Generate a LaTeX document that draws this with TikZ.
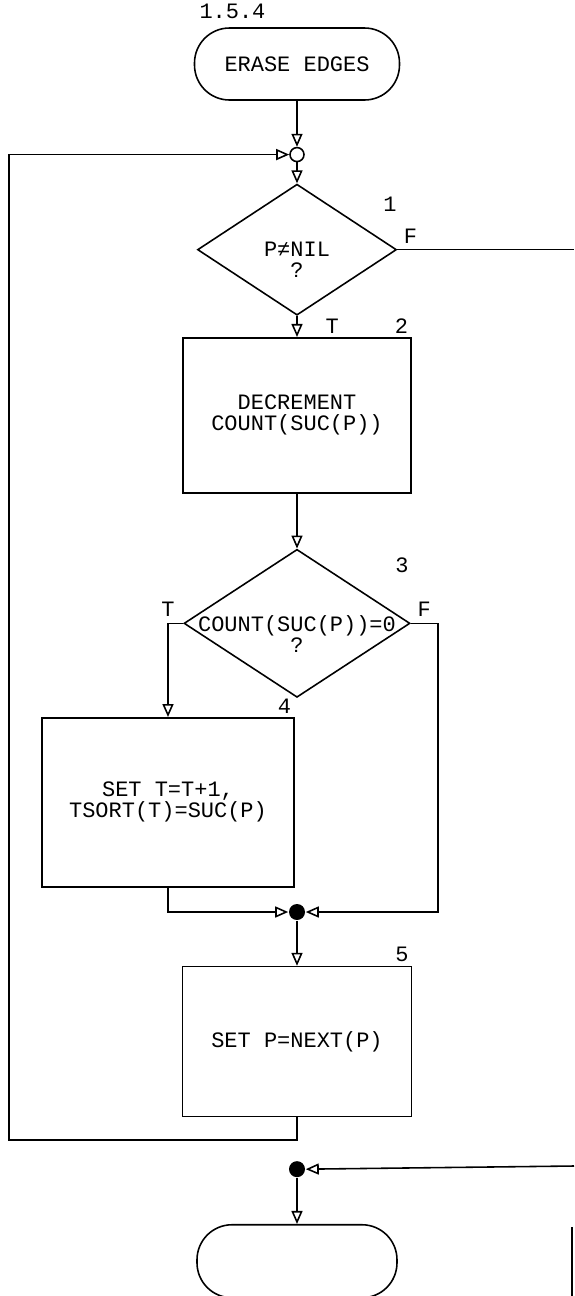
\documentclass[tikz,border=0pt]{standalone}
\usepackage{fontspec}
\setmonofont{Liberation Mono}
\usepackage{tikz}
\usetikzlibrary{arrows.meta,calc,positioning,shapes.geometric}

\begin{document}
\begin{tikzpicture}[
			x=1mm, y=1mm,
			>={Triangle[open,length=2.6mm,width=2.2mm]},
			line width=0.9pt,
			every node/.style={font=\ttfamily\fontsize{12.5}{12}\selectfont},
			term/.style={draw, rectangle, rounded corners=7mm, minimum width=41mm, minimum height=14.4mm},
			block/.style={draw, rectangle, align=center},
			decision/.style={draw, diamond, inner sep=0pt},
			jopen/.style={draw, circle, inner sep=0pt, minimum size=2.8mm},
			jdot/.style={fill, circle, inner sep=0pt, minimum size=3.2mm},
			txt/.style={align=center},
			num/.style={inner sep=0.6mm},
			flow/.style={->}
			]
			\useasboundingbox (0,0) rectangle (114.8,-259.2);
			
			\node[term] (start) at (59.4,-12.8) {ERASE EDGES};
			\node[anchor=south west, inner sep=0pt] (secno) at ($(start.north west)+(1.0,1.6)$) {1.5.4};
			
			\node[jopen, below=9.2mm of start] (j1) {};
			\node[decision, minimum width=39.8mm, minimum height=26.2mm, below=4.2mm of j1] (test1) {};
			\node[txt] at ($(test1)+(0,-2.1)$) {P≠NIL\\?};
			\node[block, minimum width=45.6mm, minimum height=31mm, below=4.2mm of test1] (dec) {DECREMENT\\COUNT(SUC(P))};
			\node[decision, minimum width=45.2mm, minimum height=29.6mm, below=11mm of dec] (test3) {};
			\node[txt] at ($(test3)+(0,-2.1)$) {COUNT(SUC(P))=0\\?};
			\node[block, minimum width=50.4mm, minimum height=33.8mm, anchor=north] (inc) at (33.6,-143.4) {SET T=T+1,\\TSORT(T)=SUC(P)};
			\node[jdot] (j2) at (59.4,-182.4) {};
			\node[block, minimum width=45.8mm, minimum height=30mm, below=9mm of j2] (next) {SET P=NEXT(P)};
			\node[jdot, below=8.6mm of next] (j3) {};
			\node[term, minimum width=40mm, minimum height=14.6mm, below=9.2mm of j3] (stop) {};
			
			% step numbers
			\node[num] at ($(test1.north)+(18.6,-4.2)$) {1};
			\node[num, above left=0mm of dec.north east] {2};
			\node[num] at ($(test3.north)+(21,-3.4)$) {3};
			\node[num, above left=0mm of inc.north east] {4};
			\node[num, above left=0mm of next.north east] {5};
			
			\coordinate (loopl) at (1.8,-228);
			\coordinate (rin) at (114.8,-233.2);
			\coordinate (fturn) at ($(test3.east)+(5.4,0)$);
			
			\draw[flow] (start) -- (j1);
			\draw[flow] (j1) -- (test1);
			\draw[flow] (test1) -- node[right, xshift=4.4mm] {T} (dec);
			\draw (test1.east) -- node[pos=0, above right] {F} (test1.east -| rin);
			\draw[flow] (dec) -- (test3);
			\draw[flow] (test3.west) -| node[pos=0.5, above] {T} (inc.north);
			\draw[flow] (test3.east) -- node[above] {F} (fturn) |- (j2.east);
			\draw[flow] (inc.south) |- (j2.west);
			\draw[flow] (j2) -- (next);
			\draw[flow] (next.south) |- (loopl) |- (j1.west);
			\draw[flow] (rin) -- (j3.east);
			\draw[flow] (j3) -- (stop);
			
			\draw (114.4,-245.4) -- (114.4,-259.2);
		\end{tikzpicture}
\end{document}
